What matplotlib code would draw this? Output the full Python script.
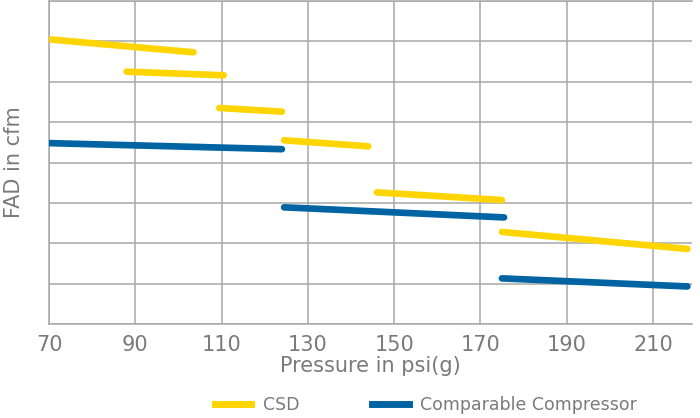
import matplotlib.pyplot as plt
from matplotlib.lines import Line2D

# CSD: one segment per machine size (pressure range -> FAD)
csd_p_start = [70, 88, 109.5, 124.5, 146, 175]
csd_p_end = [103.5, 110.5, 124, 144, 175, 218]
csd_fad_start = [7.05, 6.25, 5.35, 4.55, 3.26, 2.28]
csd_fad_end = [6.73, 6.16, 5.26, 4.40, 3.07, 1.86]

# comparable compressor
cmp_p_start = [70, 124.5, 175]
cmp_p_end = [124, 175.5, 218]
cmp_fad_start = [4.48, 2.89, 1.13]
cmp_fad_end = [4.33, 2.64, 0.93]

x_ticks = [70, 90, 110, 130, 150, 170, 190, 210]

YELLOW = "#FFD500"
BLUE = "#0064A3"
GREY = "#7a7a7a"
GRID = "#a8a8a8"

plt.rcParams['font.family'] = ['DejaVu Sans']

fig = plt.figure(figsize=(7, 4.18), dpi=100)
ax = fig.add_axes([49 / 700, 1 - 324 / 418, (691.7 - 49) / 700, 323 / 418])

for x0, x1, y0, y1 in zip(csd_p_start, csd_p_end, csd_fad_start, csd_fad_end):
    ax.plot([x0, x1], [y0, y1], color=YELLOW, lw=4.8, solid_capstyle='round', zorder=3)
for x0, x1, y0, y1 in zip(cmp_p_start, cmp_p_end, cmp_fad_start, cmp_fad_end):
    ax.plot([x0, x1], [y0, y1], color=BLUE, lw=4.8, solid_capstyle='round', zorder=3)

ax.set_xlim(70, 219)
ax.set_ylim(0, 8)
ax.set_xticks(x_ticks)
ax.set_yticks(range(0, 9))
ax.set_yticklabels([])
ax.grid(True, color=GRID, lw=1.1)
ax.tick_params(length=0, labelsize=15, labelcolor=GREY, pad=8)
for side in ['left', 'bottom', 'top']:
    ax.spines[side].set_color(GRID)
    ax.spines[side].set_linewidth(1.1)
ax.spines['right'].set_visible(False)

ax.set_xlabel("Pressure in psi(g)", fontsize=15, color=GREY, labelpad=1)
ax.set_ylabel("FAD in cfm", fontsize=15, color=GREY, labelpad=10)

handles = [Line2D([], [], color=YELLOW, lw=5),
           Line2D([], [], color=BLUE, lw=5)]
fig.legend(handles, ["CSD", "Comparable Compressor"], loc='center left',
           bbox_to_anchor=(215 / 700, 1 - 405 / 418), ncol=2, frameon=False,
           fontsize=12.5, labelcolor=GREY, handlelength=2.1, handletextpad=0.65,
           columnspacing=4.2, borderpad=0, borderaxespad=0)

fig.savefig("out.png", dpi=100)
